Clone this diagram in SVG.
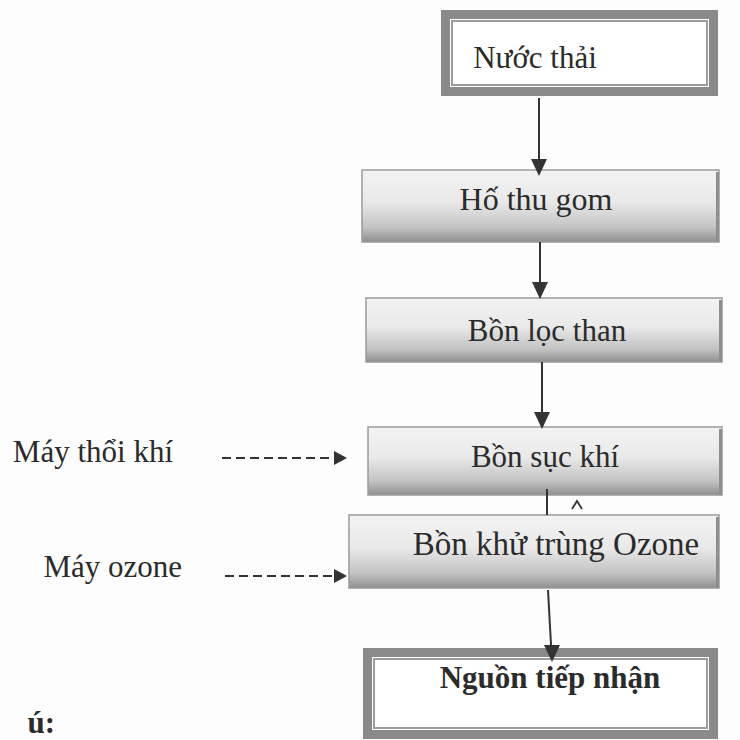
<svg xmlns="http://www.w3.org/2000/svg" width="740" height="740" viewBox="0 0 740 740">
<style>
  .t { font-family: "Liberation Serif", "Times New Roman", serif; font-size: 31px; fill: #2b2b2b; text-anchor: middle; }
  .lbl { font-family: "Liberation Serif", "Times New Roman", serif; font-size: 31px; fill: #2b2b2b; text-anchor: end; }
  .b { font-weight: bold; }
  .box { fill: url(#grad); stroke: #9a9a9a; stroke-width: 1.5; }
  .shadowR { fill: #8e8e8e; }
  .frameOuter { fill: #ffffff; stroke: #8a8a8a; stroke-width: 9; }
  .frameInner { fill: none; stroke: #9c9c9c; stroke-width: 2; }
  .solid { stroke: #333333; stroke-width: 2; fill: none; }
  .dash { stroke: #333333; stroke-width: 2.2; fill: none; stroke-dasharray: 9 5; }
  .head { fill: #333333; stroke: none; }
</style>
<defs>
  <linearGradient id="grad" x1="0" y1="0" x2="0" y2="1">
    <stop offset="0" stop-color="#f3f3f3"/>
    <stop offset="0.45" stop-color="#e9e9e9"/>
    <stop offset="0.8" stop-color="#c2c2c2"/>
    <stop offset="1" stop-color="#8f8f8f"/>
  </linearGradient>
</defs>
<rect x="0" y="0" width="740" height="740" fill="#fdfdfd"/>

<g id="nuoc-thai">
  <rect class="frameOuter" x="445.5" y="14.5" width="268" height="77"/>
  <rect class="frameInner" x="452" y="21" width="255" height="64"/>
  <text class="t" x="535" y="68">Nước thải</text>
</g>

<g id="ho-thu-gom">
  <rect class="box" x="362" y="170" width="357" height="72"/>
  <rect class="shadowR" x="716" y="172" width="3" height="70"/>
  <text class="t" x="536" y="210" style="font-size:32px">Hố thu gom</text>
</g>

<g id="bon-loc-than">
  <rect class="box" x="366" y="298" width="356" height="64"/>
  <rect class="shadowR" x="719" y="300" width="3" height="62"/>
  <text class="t" x="547" y="341">Bồn lọc than</text>
</g>

<g id="bon-suc-khi">
  <rect class="box" x="368" y="427" width="354" height="68"/>
  <rect class="shadowR" x="719" y="429" width="3" height="66"/>
  <text class="t" x="545" y="467">Bồn sục khí</text>
</g>

<g id="bon-khu-trung">
  <rect class="box" x="349" y="515" width="370" height="73"/>
  <rect class="shadowR" x="716" y="517" width="3" height="71"/>
  <text class="t" x="556" y="555" style="font-size:33px">Bồn khử trùng Ozone</text>
</g>

<g id="nguon-tiep-nhan">
  <rect class="frameOuter" x="367.5" y="652.5" width="346" height="82"/>
  <rect class="frameInner" x="374" y="659" width="333" height="69"/>
  <text class="t b" x="550" y="688">Nguồn tiếp nhận</text>
</g>

<g id="may-thoi-khi">
  <text class="lbl" x="173" y="462">Máy thổi khí</text>
</g>

<g id="may-ozone">
  <text class="lbl" x="182" y="577">Máy ozone</text>
</g>

<g id="ghi-chu">
  <text class="lbl b" x="55" y="733">ú:</text>
</g>

<g id="connectors">
  <line class="solid" x1="539" y1="98" x2="539" y2="162"/>
  <polygon class="head" points="531,159 547,159 539,176"/>
  <line class="solid" x1="540" y1="242" x2="540" y2="285"/>
  <polygon class="head" points="532,282 548,282 540,299"/>
  <line class="solid" x1="542" y1="362" x2="542" y2="415"/>
  <polygon class="head" points="534,412 550,412 542,429"/>
  <line class="solid" x1="547" y1="489" x2="547" y2="515"/>
  <polyline points="572,509 577,501 582,509" fill="none" stroke="#333333" stroke-width="1.8"/>
  <line class="solid" x1="548" y1="590" x2="551.2" y2="648"/>
  <polygon class="head" points="544,645 560,645 552,662"/>
  <line class="dash" x1="222" y1="458" x2="336" y2="458"/>
  <polygon class="head" points="334,451 334,465 347,458"/>
  <line class="dash" x1="225" y1="576" x2="336" y2="576"/>
  <polygon class="head" points="334,569 334,583 347,576"/>
</g>
</svg>
